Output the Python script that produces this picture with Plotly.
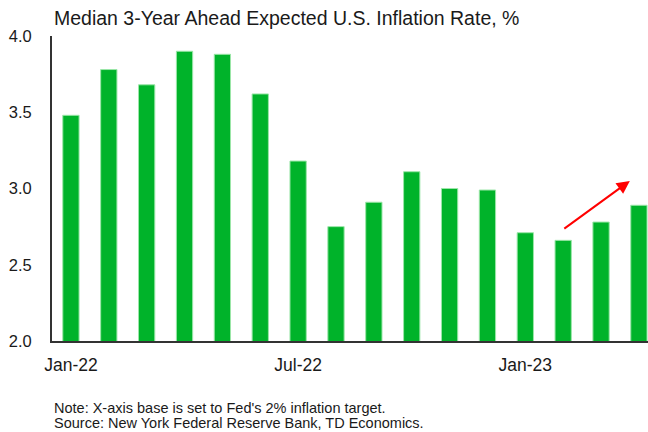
import plotly.graph_objects as go

months = ["Jan-22", "Feb-22", "Mar-22", "Apr-22", "May-22", "Jun-22", "Jul-22", "Aug-22",
          "Sep-22", "Oct-22", "Nov-22", "Dec-22", "Jan-23", "Feb-23", "Mar-23", "Apr-23"]
values = [3.48, 3.78, 3.68, 3.90, 3.88, 3.62, 3.18, 2.75,
          2.91, 3.11, 3.00, 2.99, 2.71, 2.66, 2.78, 2.89]
tick_labels = ["Jan-22", "Jul-22", "Jan-23"]
y_ticks = [2.0, 2.5, 3.0, 3.5, 4.0]

title = "Median 3-Year Ahead Expected U.S. Inflation Rate, %"
note = "Note: X-axis base is set to Fed's 2% inflation target."
source = "Source: New York Federal Reserve Bank, TD Economics."

xs = list(range(len(months)))
FONT = "Liberation Sans, Arial, sans-serif"

fig = go.Figure()
fig.add_trace(go.Bar(
    x=xs, y=values, base=0,
    marker=dict(color="#00B32A", line=dict(color="#9be6a8", width=1)),
    width=0.43,
    hovertext=months,
))

fig.update_layout(
    width=648, height=432,
    margin=dict(l=52, r=0, t=36, b=91),
    paper_bgcolor="white", plot_bgcolor="white",
    showlegend=False,
    font=dict(family=FONT, size=14, color="#1a1a1a"),
    xaxis=dict(
        range=[-0.5, 15.24],
        tickmode="array",
        tickvals=[months.index(t) for t in tick_labels],
        ticktext=tick_labels,
        showgrid=False, zeroline=False,
        showline=True, linecolor="#333333", linewidth=2,
        ticks="", ticklabelstandoff=7, tickfont=dict(size=17.5),
    ),
    yaxis=dict(
        range=[2.0, 4.0],
        tickmode="array", tickvals=y_ticks,
        ticktext=[f"{v:.1f}" for v in y_ticks],
        showgrid=False, zeroline=False,
        showline=True, linecolor="#333333", linewidth=2,
        ticks="", ticklabelstandoff=15, tickfont=dict(size=16.5),
    ),
)

fig.add_annotation(text=title, xref="paper", yref="paper", x=0, y=1.059,
                   xanchor="left", yanchor="middle", showarrow=False,
                   font=dict(family=FONT, size=19.5, color="#1a1a1a"))
fig.add_annotation(text=note, xref="paper", yref="paper", x=0, y=-0.219,
                   xanchor="left", yanchor="middle", showarrow=False,
                   font=dict(family=FONT, size=14.5, color="#1a1a1a"))
fig.add_annotation(text=source, xref="paper", yref="paper", x=0, y=-0.27,
                   xanchor="left", yanchor="middle", showarrow=False,
                   font=dict(family=FONT, size=14.5, color="#1a1a1a"))

# trend arrow
fig.add_annotation(x=14.76, y=3.05, ax=12.99, ay=2.73,
                   xref="x", yref="y", axref="x", ayref="y",
                   showarrow=True, arrowhead=2, arrowsize=1.3, arrowwidth=2,
                   arrowcolor="#FF0000", text="")

fig.write_html("out.html")
